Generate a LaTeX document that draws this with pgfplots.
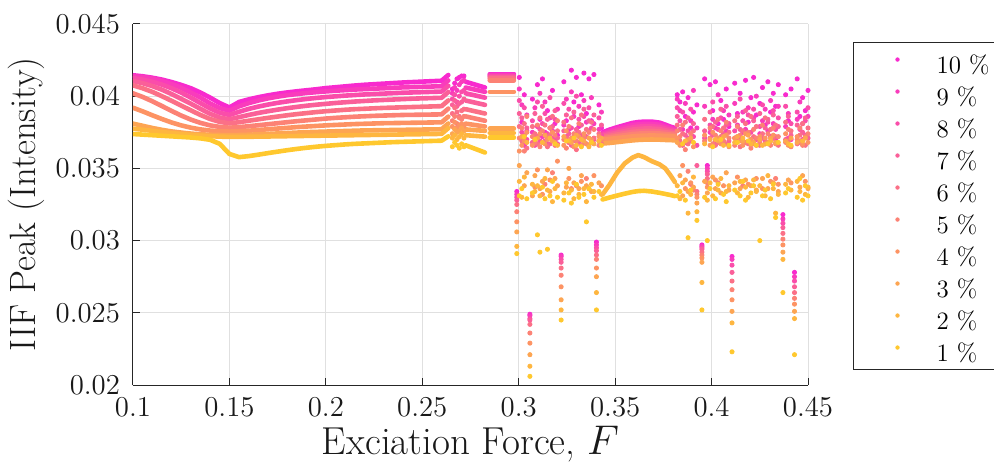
\documentclass[border=0pt]{standalone}
\usepackage{pgfplots}
\usepackage{pgfplotstable}
\pgfplotsset{compat=1.18}

% damping levels 1 % (gold) ... 10 % (magenta)
\definecolor{c1}{RGB}{255,200,46}
\definecolor{c2}{RGB}{254,182,64}
\definecolor{c3}{RGB}{253,165,82}
\definecolor{c4}{RGB}{253,147,99}
\definecolor{c5}{RGB}{252,130,117}
\definecolor{c6}{RGB}{251,112,135}
\definecolor{c7}{RGB}{250,95,153}
\definecolor{c8}{RGB}{250,77,170}
\definecolor{c9}{RGB}{249,60,188}
\definecolor{c10}{RGB}{248,42,206}
\definecolor{axisgray}{RGB}{38,38,38}

% periodic branch, low forcing
\pgfplotstableread{
F      s1      s2      s3      s4      s5      s6      s7      s8      s9      s10
0.100  0.03738 0.03775 0.03810 0.03920 0.04020 0.04075 0.04105 0.04125 0.04138 0.04145
0.105  0.03734 0.03768 0.03795 0.03895 0.03995 0.04055 0.04090 0.04115 0.04132 0.04138
0.110  0.03730 0.03760 0.03780 0.03868 0.03965 0.04030 0.04070 0.04100 0.04122 0.04128
0.115  0.03726 0.03752 0.03767 0.03842 0.03932 0.04000 0.04045 0.04080 0.04105 0.04115
0.120  0.03722 0.03745 0.03756 0.03818 0.03898 0.03968 0.04015 0.04055 0.04085 0.04098
0.125  0.03718 0.03738 0.03748 0.03798 0.03866 0.03935 0.03982 0.04025 0.04058 0.04078
0.130  0.03714 0.03732 0.03741 0.03782 0.03838 0.03902 0.03948 0.03990 0.04025 0.04055
0.135  0.03708 0.03727 0.03736 0.03770 0.03815 0.03870 0.03912 0.03952 0.03990 0.04025
0.140  0.03698 0.03723 0.03733 0.03762 0.03798 0.03842 0.03878 0.03915 0.03950 0.03990
0.145  0.03670 0.03720 0.03731 0.03757 0.03787 0.03822 0.03852 0.03885 0.03917 0.03952
0.150  0.03600 0.03718 0.03730 0.03755 0.03782 0.03812 0.03840 0.03870 0.03900 0.03922
0.155  0.03578 0.03718 0.03731 0.03757 0.03786 0.03820 0.03855 0.03892 0.03930 0.03960
0.160  0.03585 0.03719 0.03733 0.03761 0.03792 0.03830 0.03870 0.03912 0.03952 0.03978
0.165  0.03595 0.03720 0.03736 0.03766 0.03799 0.03840 0.03884 0.03928 0.03970 0.03993
0.170  0.03606 0.03721 0.03739 0.03771 0.03806 0.03850 0.03896 0.03942 0.03985 0.04006
0.175  0.03616 0.03722 0.03742 0.03776 0.03813 0.03859 0.03907 0.03954 0.03997 0.04017
0.180  0.03626 0.03723 0.03745 0.03781 0.03820 0.03868 0.03917 0.03964 0.04007 0.04026
0.185  0.03635 0.03724 0.03748 0.03786 0.03827 0.03876 0.03926 0.03973 0.04015 0.04034
0.190  0.03643 0.03725 0.03751 0.03790 0.03833 0.03883 0.03934 0.03981 0.04022 0.04041
0.195  0.03650 0.03726 0.03753 0.03794 0.03839 0.03890 0.03941 0.03988 0.04028 0.04048
0.200  0.03656 0.03727 0.03755 0.03798 0.03845 0.03896 0.03947 0.03994 0.04033 0.04056
0.205  0.03661 0.03728 0.03757 0.03801 0.03850 0.03901 0.03953 0.03999 0.04038 0.04062
0.210  0.03666 0.03729 0.03759 0.03804 0.03854 0.03906 0.03958 0.04004 0.04042 0.04068
0.215  0.03670 0.03730 0.03761 0.03807 0.03858 0.03910 0.03963 0.04008 0.04046 0.04074
0.220  0.03673 0.03731 0.03763 0.03809 0.03861 0.03913 0.03967 0.04012 0.04049 0.04079
0.225  0.03676 0.03732 0.03764 0.03811 0.03864 0.03916 0.03971 0.04015 0.04052 0.04083
0.230  0.03679 0.03733 0.03765 0.03813 0.03866 0.03919 0.03974 0.04018 0.04055 0.04087
0.235  0.03682 0.03734 0.03766 0.03814 0.03868 0.03921 0.03977 0.04021 0.04058 0.04091
0.240  0.03684 0.03735 0.03767 0.03815 0.03870 0.03923 0.03980 0.04024 0.04061 0.04095
0.245  0.03686 0.03736 0.03768 0.03816 0.03871 0.03925 0.03983 0.04026 0.04063 0.04098
0.250  0.03688 0.03737 0.03769 0.03817 0.03872 0.03927 0.03985 0.04028 0.04065 0.04101
0.255  0.03690 0.03738 0.03770 0.03818 0.03873 0.03929 0.03987 0.04030 0.04067 0.04104
0.260  0.03692 0.03739 0.03771 0.03819 0.03874 0.03931 0.03989 0.04032 0.04069 0.04107
0.2635 0.03722 0.03779 0.03811 0.03859 0.03914 0.03971 0.04029 0.04072 0.04109 0.04147
}\lowforce

% scattered samples just after the first jump
\pgfplotstableread{
F      s1     s2     s3     s4     s5     s6     s7     s8     s9     s10
0.2656 0.0365 0.0371 0.0374 0.0379 0.0383 0.0388 0.0394 0.0398 0.0402 0.0405
0.2668 0.0368 0.0373 0.0377 0.0382 0.0386 0.0392 0.0397 0.0401 0.0406 0.0409
0.2680 0.0366 0.0370 0.0375 0.0378 0.0381 0.0389 0.0393 0.0396 0.0404 0.0412
0.2692 0.0364 0.0372 0.0376 0.0380 0.0385 0.0386 0.0395 0.0400 0.0408 0.0413
0.2704 0.0367 0.0374 0.0378 0.0381 0.0384 0.0390 0.0396 0.0403 0.0410 0.0414
0.2716 0.0365 0.0371 0.0376 0.0379 0.0386 0.0391 0.0398 0.0404 0.0411 0.0414
}\kinkpts

\pgfplotstableread{
F      s1     s2     s3     s4     s5     s6     s7     s8     s9     s10
0.2725 0.0366 0.0373 0.0377 0.0381 0.0386 0.0391 0.0397 0.0402 0.0406 0.0410
0.2825 0.0361 0.0372 0.0376 0.0379 0.0383 0.0388 0.0394 0.0399 0.0403 0.0406
}\dropseg

\pgfplotstableread{
F      s1      s2      s3      s4      s5      s6      s7      s8      s9      s10
0.2850 0.03712 0.03745 0.03775 0.04030 0.04110 0.04122 0.04132 0.04140 0.04148 0.04155
0.2975 0.03712 0.03745 0.03775 0.04030 0.04110 0.04122 0.04132 0.04140 0.04148 0.04155
}\plateau

% first irregular window
\pgfplotstableread{
F      s1     s2     s3     s4     s5     s6     s7     s8     s9     s10
0.2990 0.0291 0.0296 0.0306 0.0313 0.0320 0.0325 0.0328 0.0330 0.0332 0.0334
0.3003 0.0331 0.0341 0.0352 0.0362 0.0371 0.0379 0.0388 0.0397 0.0405 0.0413
0.3016 0.0336 0.0330 0.0372 0.0366 0.0378 0.0369 0.0385 0.0375 0.0394 0.0382
0.3029 0.0372 0.0344 0.0338 0.0369 0.0362 0.0381 0.0373 0.0392 0.0366 0.0401
0.3042 0.0329 0.0368 0.0347 0.0375 0.0386 0.0364 0.0378 0.0370 0.0387 0.0376
0.3058 0.0206 0.0213 0.0221 0.0229 0.0236 0.0242 0.0245 0.0246 0.0248 0.0249
0.3071 0.0333 0.0339 0.0331 0.0366 0.0372 0.0379 0.0368 0.0383 0.0375 0.0398
0.3084 0.0370 0.0334 0.0345 0.0337 0.0368 0.0374 0.0388 0.0366 0.0392 0.0371
0.3097 0.0304 0.0338 0.0371 0.0349 0.0380 0.0367 0.0372 0.0396 0.0379 0.0408
0.3110 0.0292 0.0331 0.0336 0.0374 0.0365 0.0385 0.0377 0.0369 0.0402 0.0384
0.3123 0.0337 0.0368 0.0341 0.0332 0.0376 0.0368 0.0393 0.0381 0.0372 0.0412
0.3136 0.0329 0.0343 0.0373 0.0367 0.0339 0.0380 0.0369 0.0388 0.0396 0.0375
0.3149 0.0294 0.0335 0.0349 0.0370 0.0371 0.0365 0.0384 0.0374 0.0367 0.0390
0.3162 0.0331 0.0371 0.0334 0.0342 0.0378 0.0373 0.0367 0.0399 0.0385 0.0378
0.3175 0.0341 0.0327 0.0369 0.0375 0.0347 0.0386 0.0379 0.0371 0.0376 0.0404
0.3188 0.0367 0.0336 0.0343 0.0368 0.0373 0.0366 0.0390 0.0384 0.0369 0.0381
0.3201 0.0330 0.0366 0.0338 0.0355 0.0383 0.0376 0.0371 0.0367 0.0391 0.0373
0.3220 0.0245 0.0252 0.0259 0.0268 0.0276 0.0281 0.0285 0.0287 0.0289 0.0290
0.3234 0.0328 0.0333 0.0372 0.0366 0.0370 0.0382 0.0376 0.0395 0.0380 0.0410
0.3247 0.0369 0.0340 0.0337 0.0376 0.0364 0.0371 0.0387 0.0372 0.0398 0.0383
0.3260 0.0333 0.0369 0.0350 0.0343 0.0379 0.0368 0.0374 0.0391 0.0368 0.0377
0.3273 0.0326 0.0335 0.0368 0.0371 0.0336 0.0385 0.0366 0.0378 0.0403 0.0418
0.3286 0.0371 0.0329 0.0340 0.0365 0.0374 0.0372 0.0389 0.0369 0.0386 0.0396
0.3299 0.0339 0.0366 0.0373 0.0338 0.0369 0.0363 0.0377 0.0400 0.0374 0.0413
0.3312 0.0330 0.0332 0.0336 0.0372 0.0381 0.0375 0.0368 0.0384 0.0393 0.0379
0.3325 0.0365 0.0370 0.0345 0.0341 0.0366 0.0387 0.0380 0.0373 0.0370 0.0401
0.3338 0.0332 0.0336 0.0369 0.0374 0.0372 0.0368 0.0391 0.0386 0.0397 0.0416
0.3351 0.0313 0.0327 0.0338 0.0367 0.0343 0.0377 0.0372 0.0367 0.0382 0.0388
0.3364 0.0336 0.0365 0.0371 0.0336 0.0375 0.0366 0.0383 0.0392 0.0376 0.0412
0.3377 0.0368 0.0339 0.0334 0.0370 0.0368 0.0382 0.0369 0.0378 0.0399 0.0383
0.3390 0.0330 0.0334 0.0367 0.0345 0.0377 0.0371 0.0387 0.0370 0.0381 0.0415
0.3403 0.0252 0.0264 0.0275 0.0281 0.0287 0.0290 0.0293 0.0295 0.0297 0.0299
0.3416 0.0334 0.0369 0.0340 0.0372 0.0366 0.0374 0.0369 0.0385 0.0377 0.0394
0.3429 0.0366 0.0332 0.0371 0.0338 0.0370 0.0367 0.0380 0.0373 0.0389 0.0378
}\chaosA

% periodic window
\pgfplotstableread{
F      s1      s2      s3      s4      s5      s6      s7      s8      s9      s10
0.3435 0.03285 0.03320 0.03672 0.03700 0.03708 0.03717 0.03725 0.03733 0.03742 0.03750
0.3470 0.03298 0.03385 0.03676 0.03704 0.03715 0.03725 0.03736 0.03747 0.03757 0.03768
0.3510 0.03312 0.03470 0.03682 0.03710 0.03723 0.03735 0.03748 0.03760 0.03773 0.03785
0.3550 0.03325 0.03535 0.03688 0.03716 0.03730 0.03744 0.03758 0.03772 0.03786 0.03800
0.3590 0.03337 0.03575 0.03694 0.03722 0.03738 0.03753 0.03769 0.03784 0.03800 0.03815
0.3620 0.03343 0.03592 0.03697 0.03725 0.03741 0.03757 0.03773 0.03789 0.03805 0.03821
0.3650 0.03345 0.03578 0.03699 0.03727 0.03743 0.03759 0.03776 0.03792 0.03808 0.03824
0.3690 0.03340 0.03550 0.03700 0.03728 0.03744 0.03760 0.03776 0.03792 0.03808 0.03824
0.3730 0.03331 0.03528 0.03699 0.03727 0.03742 0.03757 0.03772 0.03787 0.03802 0.03817
0.3760 0.03323 0.03500 0.03697 0.03725 0.03738 0.03751 0.03764 0.03777 0.03790 0.03803
0.3785 0.03316 0.03455 0.03696 0.03724 0.03735 0.03746 0.03757 0.03768 0.03779 0.03790
0.3810 0.03308 0.03405 0.03694 0.03722 0.03732 0.03741 0.03751 0.03761 0.03770 0.03780
}\hump

% second irregular window
\pgfplotstableread{
F      s1     s2     s3     s4     s5     s6     s7     s8     s9     s10
0.3822 0.0331 0.0338 0.0368 0.0371 0.0376 0.0380 0.0386 0.0392 0.0398 0.0401
0.3836 0.0334 0.0329 0.0345 0.0366 0.0372 0.0369 0.0377 0.0383 0.0390 0.0396
0.3850 0.0367 0.0340 0.0331 0.0352 0.0380 0.0374 0.0366 0.0389 0.0377 0.0403
0.3864 0.0328 0.0369 0.0342 0.0336 0.0363 0.0382 0.0373 0.0368 0.0395 0.0386
0.3878 0.0302 0.0319 0.0334 0.0370 0.0348 0.0367 0.0385 0.0376 0.0371 0.0399
0.3892 0.0335 0.0332 0.0371 0.0340 0.0374 0.0339 0.0369 0.0391 0.0383 0.0378
0.3906 0.0368 0.0344 0.0337 0.0365 0.0335 0.0376 0.0381 0.0372 0.0404 0.0389
0.3924 0.0314 0.0320 0.0326 0.0330 0.0332 0.0334 0.0352 0.0366 0.0378 0.0394
0.3950 0.0252 0.0271 0.0285 0.0288 0.0290 0.0292 0.0294 0.0295 0.0296 0.0297
0.3964 0.0330 0.0367 0.0341 0.0373 0.0369 0.0384 0.0376 0.0371 0.0393 0.0412
0.3978 0.0300 0.0328 0.0333 0.0337 0.0340 0.0343 0.0346 0.0348 0.0350 0.0352
0.3992 0.0336 0.0340 0.0370 0.0366 0.0378 0.0371 0.0389 0.0380 0.0375 0.0408
0.4006 0.0365 0.0331 0.0344 0.0375 0.0367 0.0379 0.0373 0.0396 0.0384 0.0390
0.4020 0.0329 0.0370 0.0336 0.0342 0.0373 0.0366 0.0382 0.0369 0.0378 0.0410
0.4034 0.0339 0.0335 0.0369 0.0371 0.0340 0.0384 0.0368 0.0377 0.0401 0.0381
0.4048 0.0370 0.0343 0.0333 0.0367 0.0376 0.0372 0.0391 0.0385 0.0371 0.0397
0.4062 0.0332 0.0366 0.0372 0.0338 0.0369 0.0378 0.0374 0.0368 0.0390 0.0384
0.4076 0.0327 0.0334 0.0347 0.0373 0.0382 0.0367 0.0380 0.0393 0.0376 0.0405
0.4090 0.0366 0.0338 0.0335 0.0365 0.0371 0.0375 0.0369 0.0381 0.0387 0.0379
0.4106 0.0223 0.0243 0.0251 0.0259 0.0266 0.0272 0.0278 0.0283 0.0287 0.0289
0.4120 0.0335 0.0368 0.0340 0.0371 0.0366 0.0383 0.0371 0.0376 0.0395 0.0409
0.4134 0.0368 0.0333 0.0372 0.0344 0.0379 0.0369 0.0386 0.0372 0.0380 0.0388
0.4148 0.0331 0.0341 0.0336 0.0369 0.0373 0.0365 0.0377 0.0398 0.0371 0.0402
0.4162 0.0341 0.0371 0.0369 0.0366 0.0338 0.0376 0.0369 0.0383 0.0389 0.0375
0.4176 0.0328 0.0337 0.0342 0.0374 0.0368 0.0381 0.0390 0.0368 0.0377 0.0411
0.4190 0.0369 0.0330 0.0373 0.0339 0.0375 0.0367 0.0374 0.0387 0.0392 0.0382
0.4204 0.0333 0.0367 0.0338 0.0370 0.0364 0.0386 0.0368 0.0375 0.0370 0.0399
0.4218 0.0338 0.0342 0.0368 0.0367 0.0377 0.0372 0.0383 0.0391 0.0385 0.0413
0.4232 0.0366 0.0334 0.0335 0.0343 0.0371 0.0379 0.0366 0.0370 0.0400 0.0387
0.4250 0.0300 0.0338 0.0370 0.0372 0.0368 0.0366 0.0388 0.0379 0.0374 0.0395
0.4264 0.0331 0.0366 0.0343 0.0336 0.0380 0.0374 0.0371 0.0394 0.0383 0.0406
0.4278 0.0335 0.0331 0.0367 0.0371 0.0367 0.0385 0.0378 0.0369 0.0391 0.0380
0.4292 0.0367 0.0345 0.0336 0.0368 0.0374 0.0368 0.0384 0.0382 0.0376 0.0410
0.4306 0.0329 0.0369 0.0371 0.0341 0.0366 0.0377 0.0369 0.0372 0.0397 0.0389
0.4320 0.0339 0.0336 0.0340 0.0373 0.0378 0.0371 0.0387 0.0390 0.0381 0.0402
0.4332 0.0316 0.0319 0.0368 0.0367 0.0343 0.0380 0.0372 0.0377 0.0370 0.0393
0.4346 0.0368 0.0332 0.0334 0.0339 0.0372 0.0366 0.0379 0.0385 0.0393 0.0408
0.4370 0.0264 0.0287 0.0292 0.0297 0.0301 0.0305 0.0309 0.0312 0.0315 0.0318
0.4384 0.0333 0.0339 0.0369 0.0374 0.0368 0.0382 0.0370 0.0393 0.0379 0.0401
0.4398 0.0336 0.0367 0.0342 0.0366 0.0377 0.0369 0.0386 0.0371 0.0388 0.0383
0.4412 0.0366 0.0335 0.0371 0.0340 0.0365 0.0376 0.0373 0.0381 0.0370 0.0405
0.4430 0.0221 0.0246 0.0251 0.0256 0.0260 0.0264 0.0268 0.0272 0.0275 0.0278
0.4444 0.0330 0.0341 0.0368 0.0372 0.0370 0.0367 0.0380 0.0389 0.0384 0.0412
0.4458 0.0343 0.0334 0.0337 0.0369 0.0378 0.0373 0.0368 0.0377 0.0396 0.0386
0.4472 0.0328 0.0369 0.0345 0.0367 0.0366 0.0381 0.0375 0.0370 0.0381 0.0399
0.4486 0.0338 0.0332 0.0371 0.0341 0.0372 0.0366 0.0385 0.0383 0.0373 0.0390
0.4500 0.0331 0.0337 0.0336 0.0368 0.0374 0.0378 0.0371 0.0392 0.0386 0.0404
}\chaosB

\begin{document}
\begin{tikzpicture}
\begin{axis}[
  at={(0,0)}, anchor=south west,
  scale only axis, width=337.5pt, height=180.5pt,
  xmin=0.1, xmax=0.45, ymin=0.02, ymax=0.045,
  xtick={0.1,0.15,0.2,0.25,0.3,0.35,0.4,0.45},
  ytick={0.02,0.025,0.03,0.035,0.04,0.045},
  scaled x ticks=false, scaled y ticks=false,
  xticklabel style={/pgf/number format/fixed, /pgf/number format/precision=3,
    font=\fontsize{13.5}{16}\selectfont, text=black!90, yshift=-3pt},
  yticklabel style={/pgf/number format/fixed, /pgf/number format/precision=3,
    font=\fontsize{13.5}{16}\selectfont, text=black!90, xshift=-3pt},
  axis x line*=bottom, axis y line*=left,
  axis line style={axisgray, line width=0.5pt},
  tick style={axisgray, line width=0.5pt},
  tick align=inside, major tick length=3.5pt,
  grid=major, grid style={black!12, line width=0.5pt},
  xlabel={Exciation Force, $F$},
  ylabel={IIF Peak (Intensity)},
  xlabel style={font=\fontsize{19.5}{22}\selectfont, text=black!90, inner sep=0.5pt,
    at={(axis description cs:0.5,-0.163)}, anchor=center},
  ylabel style={font=\fontsize{18.3}{21}\selectfont, text=black!90, inner sep=0.5pt,
    at={(axis description cs:-0.1585,0.5)}, anchor=center},
  legend style={at={(1.0667,0.950)}, anchor=north west, draw=axisgray,
    line width=0.5pt, fill=white, inner xsep=0pt, inner ysep=1.8pt,
    font=\fontsize{12.5}{14}\selectfont,
    nodes={inner xsep=4.5pt, inner ysep=0pt, text height=8.6pt, text depth=2.2pt}},
  legend cell align=left,
  legend image code/.code={%
    \path[draw=none, fill=none] (-22pt,-2.8pt) rectangle (15pt,10.6pt);
    \fill[#1, draw=none] (0pt,3.9pt) circle (1.1pt);},
  dots/.style={forget plot, only marks, mark=*, mark size=1.05pt,
    mark options={solid, draw=none}},
  trace/.style={forget plot, no marks, line width=2.3pt, line cap=round, line join=round},
]

\pgfplotsinvokeforeach{10,9,8,7,6,5,4,3,2,1}{
  \addplot[trace, color=c#1] table[x=F, y=s#1]{\lowforce};
  \addplot[dots, color=c#1, fill=c#1] table[x=F, y=s#1]{\kinkpts};
  \addplot[trace, color=c#1] table[x=F, y=s#1]{\dropseg};
  \addplot[trace, color=c#1] table[x=F, y=s#1]{\plateau};
  \addplot[dots, color=c#1, fill=c#1] table[x=F, y=s#1]{\chaosA};
  \addplot[trace, color=c#1] table[x=F, y=s#1]{\hump};
  \addplot[dots, color=c#1, fill=c#1] table[x=F, y=s#1]{\chaosB};
}

\addlegendimage{c10}\addlegendentry{10 \%}
\addlegendimage{c9}\addlegendentry{9 \%}
\addlegendimage{c8}\addlegendentry{8 \%}
\addlegendimage{c7}\addlegendentry{7 \%}
\addlegendimage{c6}\addlegendentry{6 \%}
\addlegendimage{c5}\addlegendentry{5 \%}
\addlegendimage{c4}\addlegendentry{4 \%}
\addlegendimage{c3}\addlegendentry{3 \%}
\addlegendimage{c2}\addlegendentry{2 \%}
\addlegendimage{c1}\addlegendentry{1 \%}
\end{axis}
\pgfresetboundingbox
\path[use as bounding box] (-66.5pt,-38pt) rectangle (430.5pt,192.5pt);
\end{tikzpicture}
\end{document}
